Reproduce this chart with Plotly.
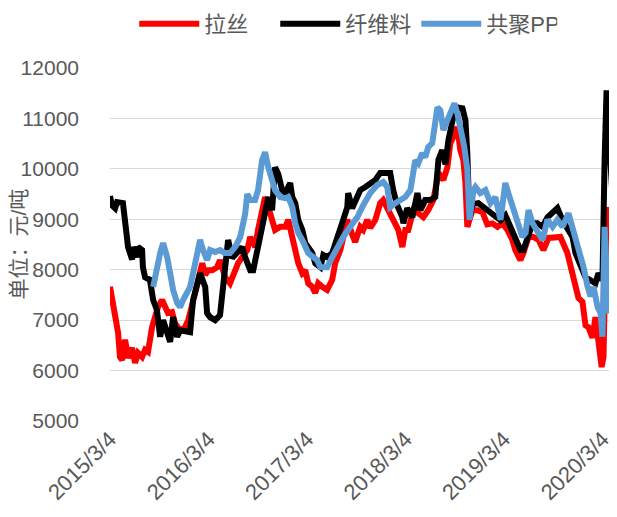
import pandas as pd
import plotly.graph_objects as go

# datas em dias contados a partir de 2015/3/4
start = pd.Timestamp("2015-03-04")

days_lasi = [0, 7, 19, 30, 37, 45, 56, 67, 82, 93, 104, 119, 130, 141, 156, 167, 178, 193, 204, 215,
             230, 241, 260, 278, 290, 304, 316, 327, 342, 353, 364, 379, 397, 408, 427, 445, 464, 475,
             490, 509, 520, 538, 549, 564, 575, 587, 601, 612, 631, 650, 661, 676, 687, 698, 713, 724,
             735, 750, 761, 772, 787, 805, 824, 835, 854, 865, 880, 898, 909, 928, 939, 954, 965, 984,
             1002, 1013, 1032, 1050, 1069, 1084, 1095, 1106, 1125, 1143, 1162, 1180, 1199, 1218, 1236,
             1251, 1262, 1273, 1288, 1299, 1310, 1318, 1325, 1344, 1362, 1381, 1399, 1418, 1437, 1455,
             1474, 1492, 1503, 1522, 1533, 1552, 1570, 1589, 1607, 1626, 1644, 1670, 1696, 1715, 1726,
             1737, 1752, 1763, 1774, 1789, 1800, 1811, 1823, 1830, 1841, 1849, 1863, 1875]
lasi = [7660, 7400, 7060, 6750, 6270, 6210, 6610, 6250, 6450, 6150, 6350, 6270, 6410, 6370, 6860, 7060,
        7260, 7400, 7260, 7140, 7160, 6940, 6800, 6860, 7000, 7260, 7540, 7800, 8130, 7900, 7990, 7990,
        8050, 8190, 7850, 7730, 7990, 8130, 8250, 8390, 8650, 8450, 8790, 9180, 9440, 9240, 8920, 8790,
        8850, 8850, 8990, 8650, 8450, 8130, 7930, 7990, 7730, 7660, 7540, 7730, 7660, 7600, 7800, 8130,
        8390, 8650, 8990, 8700, 8550, 8850, 8790, 8990, 8830, 8990, 9320, 9380, 9180, 8990, 8790, 8450,
        8790, 8790, 9180, 9120, 9040, 9180, 9380, 9920, 9780, 10030, 10510, 10630, 10830, 10370, 10180,
        9720, 8850, 9180, 9180, 9140, 8900, 8920, 8850, 8920, 8790, 8590, 8390, 8190, 8330, 8650, 8650,
        8590, 8390, 8630, 8650, 8650, 8330, 7930, 7660, 7440, 7360, 6900, 6860, 6650, 7060, 6570, 6070,
        6270, 9240, 7930, 7260, 7400]

days_xianwei = [0, 7, 19, 26, 48, 56, 63, 67, 82, 85, 100, 104, 119, 122, 130, 148, 160, 174, 186, 197,
                212, 223, 234, 249, 260, 286, 297, 308, 334, 353, 360, 371, 390, 408, 419, 438, 453, 471,
                490, 501, 520, 531, 546, 564, 575, 587, 601, 612, 624, 638, 650, 668, 676, 687, 698, 713,
                724, 735, 750, 761, 780, 791, 805, 824, 835, 854, 865, 880, 883, 898, 917, 928, 947, 965,
                984, 1002, 1028, 1039, 1050, 1065, 1084, 1088, 1102, 1121, 1140, 1151, 1169, 1188, 1206,
                1218, 1232, 1244, 1255, 1273, 1288, 1307, 1318, 1325, 1333, 1344, 1366, 1385, 1411, 1429,
                1448, 1466, 1485, 1503, 1522, 1533, 1548, 1567, 1585, 1604, 1622, 1641, 1659, 1678, 1696,
                1715, 1726, 1745, 1763, 1782, 1800, 1811, 1826, 1834, 1841, 1849, 1856, 1867, 1875]
xianwei = [9460, 9280, 9220, 9340, 9320, 8950, 8750, 8450, 8200, 8450, 8250, 8450, 8390, 8050, 7850, 7800,
           7400, 7200, 6670, 7000, 6750, 6570, 7060, 6670, 6800, 6750, 6760, 7400, 7930, 7660, 7140, 7060,
           7000, 7100, 7600, 8590, 8230, 8350, 8450, 8250, 7990, 7990, 8390, 8850, 9180, 9440, 9180, 10030,
           9900, 9580, 9520, 9720, 9440, 9320, 8990, 8790, 8530, 8450, 8330, 8130, 8050, 8290, 8250, 8330,
           8530, 8790, 8990, 9240, 9520, 9220, 9440, 9580, 9640, 9720, 9780, 9920, 9940, 9920, 9580, 9280,
           9040, 8920, 9220, 9040, 9520, 9180, 9380, 9380, 9440, 10180, 10370, 10090, 10570, 11030, 11220,
           11200, 10960, 10300, 9000, 9300, 9320, 9240, 9120, 9080, 8980, 9080, 8850, 8650, 8390, 8390,
           8650, 8920, 8920, 8850, 9040, 9120, 9220, 8980, 8790, 8650, 8330, 8050, 7850, 7790, 7730, 7930,
           7790, 10180, 11500, 11500, 10110, 9120, 7990]

days_gongju = [160, 174, 186, 197, 212, 223, 234, 249, 260, 271, 286, 297, 308, 323, 334, 345, 360, 371,
               390, 408, 427, 445, 464, 483, 501, 509, 520, 538, 549, 564, 575, 587, 601, 612, 631, 650,
               661, 676, 687, 698, 713, 724, 735, 754, 768, 780, 805, 824, 843, 865, 891, 917, 939, 965,
               991, 1013, 1028, 1039, 1058, 1076, 1095, 1114, 1125, 1132, 1143, 1158, 1169, 1180, 1195,
               1206, 1214, 1225, 1236, 1251, 1262, 1277, 1288, 1303, 1314, 1325, 1333, 1348, 1355, 1373,
               1392, 1411, 1429, 1448, 1466, 1477, 1492, 1511, 1529, 1541, 1552, 1567, 1585, 1604, 1622,
               1641, 1659, 1678, 1700, 1719, 1737, 1756, 1771, 1782, 1793, 1808, 1819, 1826, 1834, 1841,
               1849, 1863, 1878]
gongju = [7660, 8050, 8330, 8530, 8250, 7930, 7600, 7340, 7260, 7400, 7540, 7660, 7930, 8250, 8590, 8390,
          8190, 8390, 8350, 8390, 8330, 8330, 8450, 8650, 9100, 9500, 9380, 9380, 9580, 10170, 10330, 10030,
          9780, 9580, 9440, 9420, 9440, 9240, 8920, 8730, 8590, 8450, 8330, 8250, 8190, 8050, 8050, 8250,
          8450, 8650, 8850, 9040, 9280, 9520, 9680, 9740, 9640, 9240, 9320, 9380, 9440, 9580, 10030, 10170,
          10110, 10310, 10230, 10430, 10510, 10830, 11220, 11160, 10770, 10960, 11100, 11300, 11100, 10770,
          10430, 9980, 8990, 9580, 9640, 9520, 9580, 9320, 9440, 8990, 9720, 9520, 9240, 8990, 8650, 8730,
          9180, 8920, 8730, 8590, 8990, 8850, 8990, 8850, 9120, 8790, 8390, 8050, 7660, 7470, 7660, 7260,
          7140, 6670, 8850, 7790, 7140, 7660, 7790]

tick_labels = ["2015/3/4", "2016/3/4", "2017/3/4", "2018/3/4", "2019/3/4", "2020/3/4"]
y_ticks = [5000, 6000, 7000, 8000, 9000, 10000, 11000, 12000]


def to_dates(days):
    return start + pd.to_timedelta(days, unit="D")


tick_dates = pd.to_datetime(tick_labels, format="%Y/%m/%d")
series = [
    ("拉丝", days_lasi, lasi, "#FF0000"),
    ("纤维料", days_xianwei, xianwei, "#000000"),
    ("共聚PP", days_gongju, gongju, "#5B9BD5"),
]

fig = go.Figure()
for nome, dias, valores, cor in series:
    fig.add_trace(
        go.Scatter(
            x=to_dates(dias),
            y=valores,
            mode="lines",
            name=nome,
            line=dict(color=cor, width=6),
        )
    )

cinza = "#595959"
fonte = "Liberation Sans, Noto Sans CJK SC, sans-serif"

fig.update_xaxes(
    type="date",
    range=[start, to_dates([1880])[0]],
    tickvals=tick_dates,
    ticktext=tick_labels,
    tickangle=-45,
    tickfont=dict(size=22, color=cinza, family=fonte),
    showgrid=False,
    showline=False,
    zeroline=False,
    ticks="",
    automargin=False,
)
fig.update_yaxes(
    range=[5000, 12000],
    tickvals=y_ticks,
    ticktext=[str(v) for v in y_ticks],
    tickfont=dict(size=21, color=cinza, family=fonte),
    showgrid=True,
    gridcolor="#D9D9D9",
    gridwidth=1.3,
    zeroline=False,
    ticks="",
    ticklabelstandoff=30,
    automargin=False,
)
fig.add_annotation(
    text="单位：元/吨",
    xref="paper",
    yref="paper",
    x=0,
    y=0.5,
    xanchor="center",
    yanchor="middle",
    xshift=-92,
    textangle=-90,
    showarrow=False,
    font=dict(size=21, color=cinza, family=fonte),
)
# a página tem 8px de margem no corpo, por isso a figura é menor que a janela
fig.update_layout(
    width=609,
    height=509,
    margin=dict(l=102, r=0, t=60, b=96, autoexpand=False),
    plot_bgcolor="white",
    paper_bgcolor="white",
    showlegend=True,
    legend=dict(
        orientation="h",
        x=0.465,
        xanchor="center",
        y=1.125,
        yanchor="middle",
        font=dict(size=22, color=cinza, family=fonte),
        itemwidth=60,
        entrywidth=66,
    ),
)
fig.write_html("out.html")
